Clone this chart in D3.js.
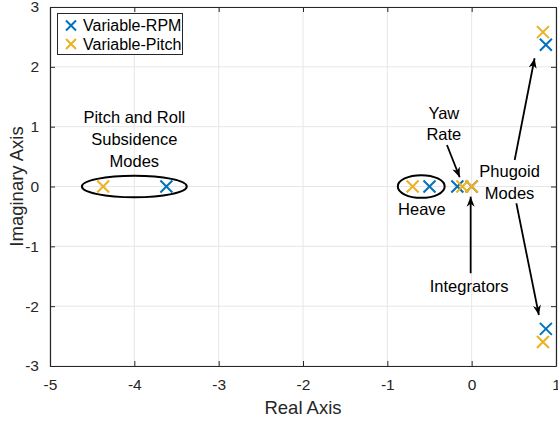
<!DOCTYPE html>
<html>
<head>
<meta charset="utf-8">
<script src="https://cdn.jsdelivr.net/npm/d3@7"></script>
<style>
  html, body { margin: 0; padding: 0; background: #fff; }
  svg { display: block; font-family: "Liberation Sans", Arial, Helvetica, sans-serif; }
</style>
</head>
<body>
<svg id="chart" width="558" height="422"></svg>
<script>
// Pole locations (real, imaginary) for each controller configuration
const seriesNames = ["Variable-RPM", "Variable-Pitch"];
const seriesColors = ["#0072BD", "#EDB120"];
const rpmReal = [-3.62, -0.50, -0.17, 0.00, 0.88, 0.88];
const rpmImag = [0, 0, 0, 0, 2.37, -2.38];
const pitchReal = [-4.37, -0.70, -0.11, 0.00, 0.845, 0.845];
const pitchImag = [0, 0, 0, 0, 2.58, -2.60];

const xTicks = [-5, -4, -3, -2, -1, 0, 1];
const yTicks = [-3, -2, -1, 0, 1, 2, 3];

// Annotation text lines: [label, x, y] in data units
const noteLines = [
  ["Pitch and Roll", -4.0, 1.16],
  ["Subsidence", -4.0, 0.79],
  ["Modes", -4.0, 0.42],
  ["Heave", -0.59, -0.37],
  ["Yaw", -0.33, 1.23],
  ["Rate", -0.33, 0.87],
  ["Phugoid", 0.45, 0.26],
  ["Modes", 0.45, -0.11],
  ["Integrators", -0.03, -1.66]
];
// Ellipses grouping poles: [cx, cy, rx, ry] in data units
const groupEllipses = [
  [-4.0, 0, 0.622, 0.18],
  [-0.598, 0, 0.278, 0.19]
];
// Arrows: [x0, y0, x1, y1] in data units (tail -> head)
const arrows = [
  [-0.293, 0.694, -0.142, 0.154],
  [-0.012, -1.45, -0.012, -0.17],
  [0.51, 0.443, 0.746, 2.143],
  [0.53, -0.28, 0.797, -2.148]
];

const svg = d3.select("#chart");
const plot = { left: 50, right: 556, top: 7, bottom: 366 };
const x = d3.scaleLinear().domain([-5, 1]).range([plot.left, plot.right]);
const y = d3.scaleLinear().domain([-3, 3]).range([plot.bottom, plot.top]);
const axisColor = "#262626";

// Grid
const grid = svg.append("g");
grid.selectAll("line.vx").data(xTicks).join("line")
  .attr("x1", d => x(d)).attr("x2", d => x(d))
  .attr("y1", plot.top).attr("y2", plot.bottom)
  .attr("stroke", "#e6e6e6").attr("stroke-width", 1);
grid.selectAll("line.hy").data(yTicks).join("line")
  .attr("y1", d => y(d)).attr("y2", d => y(d))
  .attr("x1", plot.left).attr("x2", plot.right)
  .attr("stroke", "#e6e6e6").attr("stroke-width", 1);

// Axes with inward ticks on all four sides; plain hyphen for negatives
const fmt = d => String(d);
const axB = svg.append("g").attr("transform", `translate(0,${plot.bottom})`)
  .call(d3.axisBottom(x).tickValues(xTicks).tickSizeInner(-5).tickSizeOuter(0).tickPadding(13).tickFormat(fmt));
const axT = svg.append("g").attr("transform", `translate(0,${plot.top})`)
  .call(d3.axisTop(x).tickValues(xTicks).tickSizeInner(-5).tickSizeOuter(0).tickFormat(""));
const axL = svg.append("g").attr("transform", `translate(${plot.left},0)`)
  .call(d3.axisLeft(y).tickValues(yTicks).tickSizeInner(-5).tickSizeOuter(0).tickPadding(11).tickFormat(fmt));
const axR = svg.append("g").attr("transform", `translate(${plot.right},0)`)
  .call(d3.axisRight(y).tickValues(yTicks).tickSizeInner(-5).tickSizeOuter(0).tickFormat(""));
[axB, axT, axL, axR].forEach(a => {
  a.select(".domain").attr("stroke", axisColor).attr("stroke-width", 1.2);
  a.selectAll(".tick line").attr("stroke", axisColor).attr("stroke-width", 1);
  a.selectAll(".tick text").attr("fill", axisColor).attr("font-size", 15.5)
    .attr("font-family", "'Liberation Sans', Arial, sans-serif");
});
axB.selectAll(".tick text").attr("dy", "0.71em");

// Axis titles
svg.append("text").attr("x", (plot.left + plot.right) / 2).attr("y", 414)
  .attr("text-anchor", "middle").attr("font-size", 18.5).attr("fill", axisColor)
  .text("Real Axis");
svg.append("text")
  .attr("transform", `translate(23,${(plot.top + plot.bottom) / 2}) rotate(-90)`)
  .attr("text-anchor", "middle").attr("font-size", 18.5).attr("fill", axisColor)
  .text("Imaginary Axis");

// Ellipses
svg.append("g").selectAll("ellipse").data(groupEllipses).join("ellipse")
  .attr("cx", d => x(d[0])).attr("cy", d => y(d[1]))
  .attr("rx", d => x(d[0] + d[2]) - x(d[0]))
  .attr("ry", d => y(d[1]) - y(d[1] + d[3]))
  .attr("fill", "none").attr("stroke", "#000").attr("stroke-width", 2);

// Arrows
svg.append("defs").append("marker")
  .attr("id", "head").attr("viewBox", "0 0 10 10")
  .attr("refX", 10).attr("refY", 5)
  .attr("markerWidth", 10).attr("markerHeight", 10)
  .attr("markerUnits", "userSpaceOnUse").attr("orient", "auto")
  .append("path").attr("d", "M0,1 L10,5 L0,9 L3,5 Z").attr("fill", "#000");
svg.append("g").selectAll("line").data(arrows).join("line")
  .attr("x1", d => x(d[0])).attr("y1", d => y(d[1]))
  .attr("x2", d => x(d[2])).attr("y2", d => y(d[3]))
  .attr("stroke", "#000").attr("stroke-width", 1.8)
  .attr("marker-end", "url(#head)");

// Annotation text
svg.append("g").selectAll("text").data(noteLines).join("text")
  .attr("x", d => x(d[1])).attr("y", d => y(d[2]))
  .attr("dy", "0.36em").attr("text-anchor", "middle")
  .attr("font-size", 16.5).attr("fill", "#000")
  .text(d => d[0]);

// Pole markers
const crossPath = s => `M${-s},${-s}L${s},${s}M${-s},${s}L${s},${-s}`;
const series = [
  { re: rpmReal, im: rpmImag },
  { re: pitchReal, im: pitchImag }
];
series.forEach((s, i) => {
  svg.append("g").selectAll("path").data(s.re.map((r, k) => [r, s.im[k]])).join("path")
    .attr("transform", d => `translate(${x(d[0])},${y(d[1])})`)
    .attr("d", crossPath(6))
    .attr("fill", "none").attr("stroke", seriesColors[i]).attr("stroke-width", 2);
});

// Legend
const lg = svg.append("g");
lg.append("rect").attr("x", 57.5).attr("y", 13.5).attr("width", 125).attr("height", 41)
  .attr("fill", "#fff").attr("stroke", axisColor).attr("stroke-width", 1);
seriesNames.forEach((name, i) => {
  const cy = 25.5 + i * 18.5;
  lg.append("path").attr("transform", `translate(71,${cy})`).attr("d", crossPath(5))
    .attr("fill", "none").attr("stroke", seriesColors[i]).attr("stroke-width", 2);
  lg.append("text").attr("x", 83).attr("y", cy).attr("dy", "0.36em")
    .attr("font-size", 16).attr("fill", "#000").text(name);
});
</script>
</body>
</html>
